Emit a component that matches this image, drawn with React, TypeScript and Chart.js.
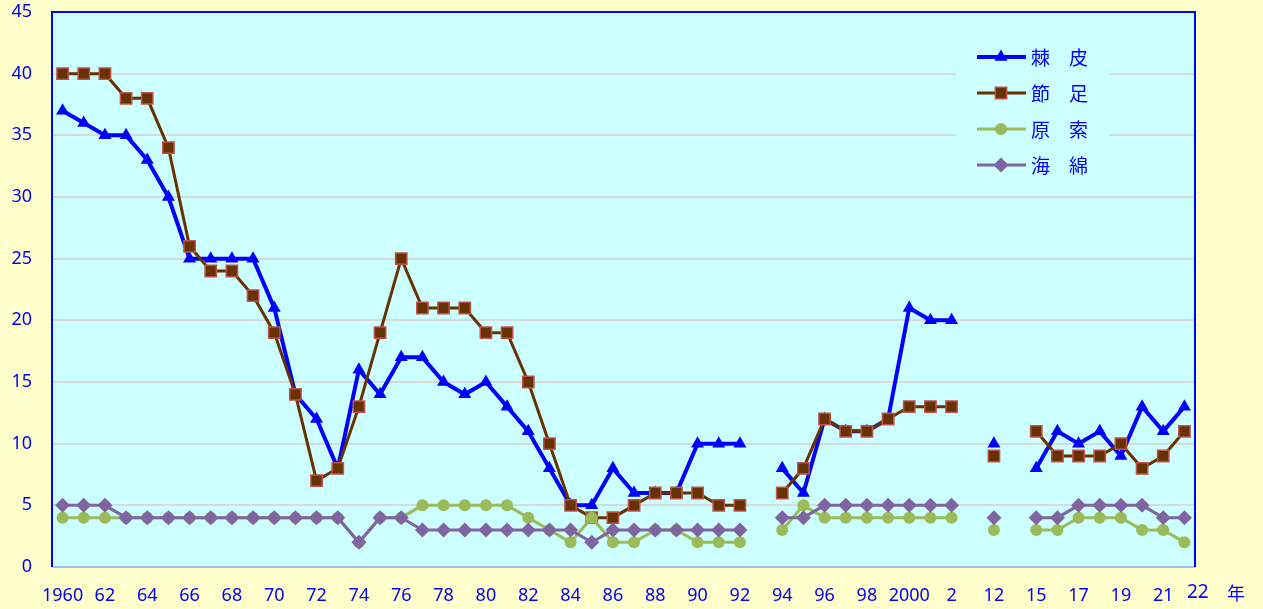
import { useEffect, useRef } from 'react';
import { Chart, registerables } from 'chart.js';

Chart.register(...registerables);

// Category slots (empty strings are blank spacer slots on the axis)
const categories: string[] = [
  '1960', '61', '62', '63', '64', '65', '66', '67', '68', '69',
  '70', '71', '72', '73', '74', '75', '76', '77', '78', '79',
  '80', '81', '82', '83', '84', '85', '86', '87', '88', '89',
  '90', '91', '92', '93', '94', '95', '96', '97', '98', '99',
  '2000', '1', '2', '', '12', '', '15', '16', '17', '18',
  '19', '20', '21', '22',
];

const seriesNames: string[] = ['棘　皮', '節　足', '原　索', '海　綿'];

// 棘皮
const echinoderm: (number | null)[] = [
  37, 36, 35, 35, 33, 30, 25, 25, 25, 25,
  21, 14, 12, 8, 16, 14, 17, 17, 15, 14,
  15, 13, 11, 8, 5, 5, 8, 6, 6, 6,
  10, 10, 10, null, 8, 6, 12, 11, 11, 12,
  21, 20, 20, null, 10, null, 8, 11, 10, 11,
  9, 13, 11, 13,
];

// 節足
const arthropod: (number | null)[] = [
  40, 40, 40, 38, 38, 34, 26, 24, 24, 22,
  19, 14, 7, 8, 13, 19, 25, 21, 21, 21,
  19, 19, 15, 10, 5, 4, 4, 5, 6, 6,
  6, 5, 5, null, 6, 8, 12, 11, 11, 12,
  13, 13, 13, null, 9, null, 11, 9, 9, 9,
  10, 8, 9, 11,
];

// 原索
const protochordate: (number | null)[] = [
  4, 4, 4, 4, 4, 4, 4, 4, 4, 4,
  4, 4, 4, 4, 2, 4, 4, 5, 5, 5,
  5, 5, 4, 3, 2, 4, 2, 2, 3, 3,
  2, 2, 2, null, 3, 5, 4, 4, 4, 4,
  4, 4, 4, null, 3, null, 3, 3, 4, 4,
  4, 3, 3, 2,
];

// 海綿
const sponge: (number | null)[] = [
  5, 5, 5, 4, 4, 4, 4, 4, 4, 4,
  4, 4, 4, 4, 2, 4, 4, 3, 3, 3,
  3, 3, 3, 3, 3, 2, 3, 3, 3, 3,
  3, 3, 3, null, 4, 4, 5, 5, 5, 5,
  5, 5, 5, null, 4, null, 4, 4, 5, 5,
  5, 5, 4, 4,
];

const yMin = 0;
const yMax = 45;
const yStep = 5;
const axisEndLabel = '22';
const axisUnit = '年';

const BLUE = '#0000FF';
const BROWN = '#663300';
const BROWN_EDGE = '#C0504D';
const GREEN = '#9BBB59';
const PURPLE = '#8064A2';
const PLOT_BG = '#CCFFFF';
const PAGE_BG = '#FFFFCC';
const NUM_FONT = '"Noto Sans", "DejaVu Sans", sans-serif';
const CJK_FONT = '"Noto Sans CJK JP", "Noto Sans", sans-serif';

function drawMarker(ctx: CanvasRenderingContext2D, kind: number, x: number, y: number) {
  ctx.save();
  ctx.beginPath();
  if (kind === 0) {
    const r = 7.5;
    ctx.moveTo(x, y - r);
    ctx.lineTo(x + r * Math.sin((2 * Math.PI) / 3), y - r * Math.cos((2 * Math.PI) / 3));
    ctx.lineTo(x + r * Math.sin((4 * Math.PI) / 3), y - r * Math.cos((4 * Math.PI) / 3));
    ctx.closePath();
    ctx.fillStyle = BLUE;
    ctx.fill();
  } else if (kind === 1) {
    const s = 5.7;
    ctx.rect(x - s, y - s, 2 * s, 2 * s);
    ctx.fillStyle = BROWN;
    ctx.fill();
    ctx.lineWidth = 1.5;
    ctx.strokeStyle = BROWN_EDGE;
    ctx.stroke();
  } else if (kind === 2) {
    ctx.arc(x, y, 6, 0, Math.PI * 2);
    ctx.fillStyle = GREEN;
    ctx.fill();
  } else {
    const r = 7.5;
    ctx.moveTo(x, y - r);
    ctx.lineTo(x + r, y);
    ctx.lineTo(x, y + r);
    ctx.lineTo(x - r, y);
    ctx.closePath();
    ctx.fillStyle = PURPLE;
    ctx.fill();
  }
  ctx.restore();
}

const framePlugin = {
  id: 'framePlugin',
  beforeDraw(chart: any) {
    const { ctx, chartArea, width, height } = chart;
    ctx.save();
    ctx.fillStyle = PAGE_BG;
    ctx.fillRect(0, 0, width, height);
    ctx.fillStyle = PLOT_BG;
    ctx.fillRect(chartArea.left, chartArea.top, chartArea.right - chartArea.left, chartArea.bottom - chartArea.top);
    ctx.restore();
  },
  beforeDatasetsDraw(chart: any) {
    const { ctx, chartArea } = chart;
    const { left, right, top, bottom } = chartArea;
    ctx.save();
    // legend box (covers grid lines)
    ctx.fillStyle = PLOT_BG;
    ctx.fillRect(956, 38, 153, 148);
    // frame
    ctx.lineWidth = 1.5;
    ctx.strokeStyle = '#A0A0E8';
    ctx.beginPath();
    ctx.moveTo(left, bottom);
    ctx.lineTo(right, bottom);
    ctx.stroke();
    ctx.lineWidth = 2;
    ctx.strokeStyle = BLUE;
    ctx.beginPath();
    ctx.moveTo(left, bottom);
    ctx.lineTo(left, top);
    ctx.lineTo(right, top);
    ctx.lineTo(right, bottom);
    ctx.stroke();

    // legend entries
    const colors = [BLUE, BROWN, GREEN, PURPLE];
    const widths = [4, 3, 3, 3];
    const ys = [57, 93, 129, 165];
    for (let i = 0; i < seriesNames.length; i++) {
      const y = ys[i];
      ctx.strokeStyle = colors[i];
      ctx.lineWidth = widths[i];
      ctx.beginPath();
      ctx.moveTo(977, y);
      ctx.lineTo(1026, y);
      ctx.stroke();
      drawMarker(ctx, i, 1001, y);
      ctx.fillStyle = BLUE;
      ctx.font = '19px ' + CJK_FONT;
      ctx.textAlign = 'left';
      ctx.textBaseline = 'middle';
      ctx.fillText(seriesNames[i], 1031, y + 1);
    }
    ctx.restore();
  },
  afterDraw(chart: any) {
    const { ctx } = chart;
    ctx.save();
    ctx.fillStyle = BLUE;
    ctx.textBaseline = 'middle';
    ctx.textAlign = 'left';
    ctx.font = '19px ' + NUM_FONT;
    ctx.fillText(axisEndLabel, 1187, 593);
    ctx.font = '18px ' + CJK_FONT;
    ctx.fillText(axisUnit, 1227, 593);
    ctx.restore();
  },
};

export default function App() {
  const canvasRef = useRef<HTMLCanvasElement | null>(null);

  useEffect(() => {
    const canvas = canvasRef.current;
    if (!canvas) return;
    const chart = new Chart(canvas, {
      type: 'line',
      data: {
        labels: categories,
        datasets: [
          {
            label: seriesNames[0],
            data: echinoderm,
            order: 3,
            borderColor: BLUE,
            backgroundColor: BLUE,
            borderWidth: 4,
            pointStyle: 'triangle',
            pointRadius: 7.5,
            pointBackgroundColor: BLUE,
            pointBorderColor: BLUE,
            pointBorderWidth: 0,
          },
          {
            label: seriesNames[1],
            data: arthropod,
            order: 2,
            borderColor: BROWN,
            backgroundColor: BROWN,
            borderWidth: 3,
            pointStyle: 'rect',
            pointRadius: 8,
            pointBackgroundColor: BROWN,
            pointBorderColor: BROWN_EDGE,
            pointBorderWidth: 1.5,
          },
          {
            label: seriesNames[2],
            data: protochordate,
            order: 1,
            borderColor: GREEN,
            backgroundColor: GREEN,
            borderWidth: 3,
            pointStyle: 'circle',
            pointRadius: 6,
            pointBackgroundColor: GREEN,
            pointBorderColor: GREEN,
            pointBorderWidth: 0,
          },
          {
            label: seriesNames[3],
            data: sponge,
            order: 0,
            borderColor: PURPLE,
            backgroundColor: PURPLE,
            borderWidth: 3,
            pointStyle: 'rectRot',
            pointRadius: 7.5,
            pointBackgroundColor: PURPLE,
            pointBorderColor: PURPLE,
            pointBorderWidth: 0,
          },
        ],
      },
      options: {
        responsive: false,
        animation: false,
        spanGaps: false,
        layout: { padding: { left: 0, top: 12, right: 68, bottom: 0 } },
        elements: { line: { tension: 0 } },
        plugins: {
          legend: { display: false },
          tooltip: { enabled: false },
        },
        scales: {
          x: {
            type: 'category',
            offset: true,
            grid: { display: false, drawTicks: false },
            border: { display: false },
            afterFit: (scale: any) => {
              scale.height = 42;
              scale.paddingLeft = 0;
              scale.paddingRight = 0;
            },
            ticks: {
              autoSkip: false,
              maxRotation: 0,
              minRotation: 0,
              padding: 18,
              color: BLUE,
              font: { family: NUM_FONT, size: 18 },
              callback: (_v: any, i: number) => (i % 2 === 0 ? categories[i] : ''),
            },
          },
          y: {
            min: yMin,
            max: yMax,
            grid: {
              drawTicks: false,
              lineWidth: 2,
              color: (c: any) => (c.tick && (c.tick.value === yMin || c.tick.value === yMax) ? 'rgba(0,0,0,0)' : '#D9D9D9'),
            },
            border: { display: false },
            afterFit: (scale: any) => {
              scale.width = 52;
              scale.paddingTop = 0;
              scale.paddingBottom = 0;
            },
            ticks: {
              stepSize: yStep,
              padding: 20,
              color: BLUE,
              font: { family: NUM_FONT, size: 18 },
            },
          },
        },
      },
      plugins: [framePlugin],
    });
    return () => chart.destroy();
  }, []);

  return (
    <div style={{ position: 'absolute', left: 0, top: 0, width: 1263, height: 609, background: PAGE_BG }}>
      <canvas ref={canvasRef} width={1263} height={609} style={{ display: 'block' }} />
    </div>
  );
}
